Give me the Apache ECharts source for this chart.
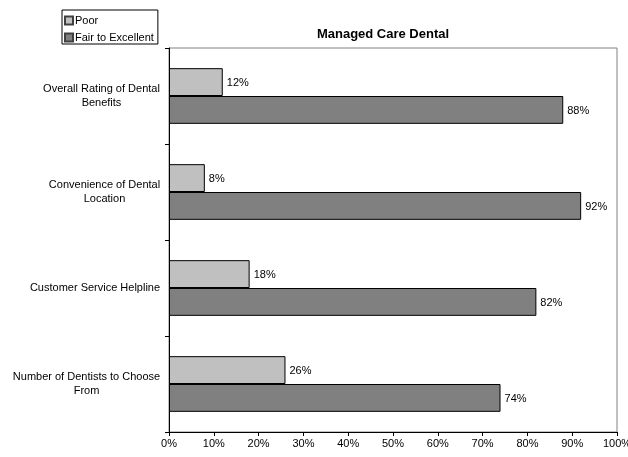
<!DOCTYPE html>
<html>
<head>
<meta charset="utf-8">
<script src="https://cdn.jsdelivr.net/npm/echarts@6/dist/echarts.min.js"></script>
<style>
  html, body { margin: 0; padding: 0; background: #fff; }
  #chart { width: 628px; height: 457px; }
</style>
</head>
<body>
<div id="chart"></div>
<script>
// categories, top to bottom
var categories = [
  'Overall Rating of Dental\nBenefits',
  'Convenience of Dental\nLocation',
  'Customer Service Helpline',
  'Number of Dentists to Choose\nFrom'
]
var poor = [12, 8, 18, 26]
var fairToExcellent = [88, 92, 82, 74]
var xTicks = [0, 10, 20, 30, 40, 50, 60, 70, 80, 90, 100]

var font = 'Arial, "Liberation Sans", sans-serif'

// measure longest line so each multi-line label is centred but right-aligned as a block
var ctx = document.createElement('canvas').getContext('2d')
ctx.font = '11px ' + font
var yData = categories.map(function (c) {
  var w = 0
  c.split('\n').forEach(function (line) {
    w = Math.max(w, ctx.measureText(line).width)
  })
  return { value: c, textStyle: { align: 'center', padding: [0, Math.round(w), -6, 0] } }
})

var chart = echarts.init(document.getElementById('chart'))

var option = {
  animation: false,
  title: {
    text: 'Managed Care Dental',
    left: 378,
    top: 23,
    textAlign: 'center',
    textStyle: { fontFamily: font, fontSize: 13, fontWeight: 'bold', color: '#000' }
  },
  legend: {
    left: 62,
    top: 10,
    orient: 'vertical',
    itemWidth: 8,
    itemHeight: 8,
    itemGap: 6,
    padding: [5, 4, 1, 2],
    borderColor: '#000',
    borderWidth: 1,
    textStyle: { fontFamily: font, fontSize: 11, color: '#000', padding: [0, 0, 0, -3] },
    data: [
      { name: 'Poor', icon: 'rect', itemStyle: { borderColor: '#404040' } },
      { name: 'Fair to Excellent', icon: 'rect', itemStyle: { borderColor: '#404040' } }
    ]
  },
  grid: {
    left: 169,
    right: 11,
    top: 48,
    bottom: 25,
    outerBoundsMode: 'none',
    containLabel: false,
    show: true,
    borderColor: '#808080',
    borderWidth: 1
  },
  xAxis: {
    type: 'value',
    min: 0,
    max: 100,
    interval: 10,
    splitLine: { show: false },
    axisLine: { show: true, lineStyle: { color: '#000' } },
    axisTick: { show: true, length: 4, lineStyle: { color: '#000' } },
    axisLabel: {
      fontFamily: font, fontSize: 11, color: '#000', margin: 6,
      formatter: function (v) { return xTicks.indexOf(v) >= 0 ? v + '%' : '' }
    }
  },
  yAxis: {
    type: 'category',
    inverse: true,
    data: yData,
    axisLine: { show: true, lineStyle: { color: '#000' } },
    axisTick: { show: true, length: 4, lineStyle: { color: '#000' } },
    axisLabel: {
      fontFamily: font, fontSize: 11, color: '#000', margin: 9,
      align: 'center', lineHeight: 14
    }
  },
  series: [
    {
      name: 'Poor',
      type: 'bar',
      data: poor,
      barCategoryGap: '42%',
      barGap: '0%',
      itemStyle: { color: '#C0C0C0', borderColor: '#000', borderWidth: 1 },
      label: {
        show: true, position: 'right', distance: 4, offset: [0, 1],
        fontFamily: font, fontSize: 11, color: '#000',
        formatter: '{c}%'
      }
    },
    {
      name: 'Fair to Excellent',
      type: 'bar',
      data: fairToExcellent,
      barCategoryGap: '42%',
      barGap: '0%',
      itemStyle: { color: '#808080', borderColor: '#000', borderWidth: 1 },
      label: {
        show: true, position: 'right', distance: 4, offset: [0, 1],
        fontFamily: font, fontSize: 11, color: '#000',
        formatter: '{c}%'
      }
    }
  ]
}

chart.setOption(option)
</script>
</body>
</html>
